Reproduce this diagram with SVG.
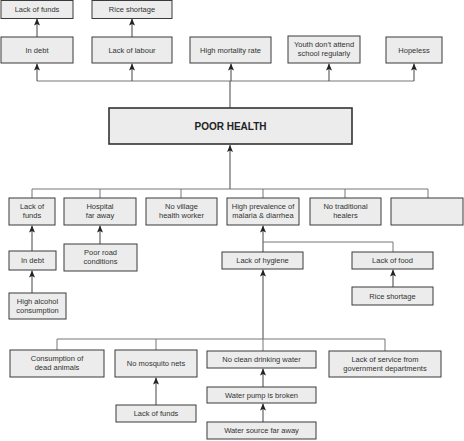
<svg xmlns="http://www.w3.org/2000/svg" width="464" height="441" viewBox="0 0 464 441">
<defs>
<marker id="ah" markerWidth="7" markerHeight="6" refX="7" refY="3" orient="auto" markerUnits="userSpaceOnUse" viewBox="0 0 7 6">
<path d="M7,3 L0,0 L1.5,3 L0,6 Z" fill="#222"/>
</marker>
<style>
.b{fill:#ebeceb;stroke:#3a3a3a;stroke-width:1}
.t{font-family:"Liberation Sans",Arial,sans-serif;font-size:7.5px;fill:#333;text-anchor:middle}
.c{stroke:#777;stroke-width:1;fill:none}
.a{stroke:#444;stroke-width:1;fill:none;marker-end:url(#ah)}
.p{stroke:#444;stroke-width:1;fill:none}
</style>
</defs>
<rect width="464" height="441" fill="#fff"/>
<g id="connectors">
<polyline class="c" points="37,81 414,81"/>
<line class="p" x1="230" y1="108" x2="230" y2="81"/>
<line class="a" x1="37" y1="81" x2="37" y2="63.5"/>
<line class="a" x1="132" y1="81" x2="132" y2="63.5"/>
<line class="a" x1="231" y1="81" x2="231" y2="63.5"/>
<line class="a" x1="329" y1="81" x2="329" y2="63.5"/>
<line class="a" x1="414" y1="81" x2="414" y2="63.5"/>
<line class="a" x1="37" y1="37" x2="37" y2="18.5"/>
<line class="a" x1="132" y1="37" x2="132" y2="18.5"/>
<line class="a" x1="230" y1="189" x2="230" y2="145"/>
<polyline class="c" points="32,198 32,189 428,189 428,198"/>
<line class="c" x1="100" y1="189" x2="100" y2="198"/>
<line class="c" x1="181" y1="189" x2="181" y2="198"/>
<line class="c" x1="263" y1="189" x2="263" y2="198"/>
<line class="c" x1="345" y1="189" x2="345" y2="198"/>
<line class="a" x1="32" y1="251" x2="32" y2="225.5"/>
<line class="a" x1="32" y1="293" x2="32" y2="270.5"/>
<line class="a" x1="100" y1="244" x2="100" y2="225.5"/>
<line class="a" x1="263" y1="252" x2="263" y2="225.5"/>
<polyline class="c" points="263,242 393,242 393,252"/>
<line class="a" x1="393" y1="287" x2="393" y2="269.5"/>
<line class="a" x1="263" y1="339" x2="263" y2="269.5"/>
<polyline class="c" points="57,350 57,339 385,339 385,351"/>
<line class="c" x1="156" y1="339" x2="156" y2="350"/>
<line class="c" x1="263" y1="339" x2="263" y2="351"/>
<line class="a" x1="156" y1="405" x2="156" y2="377.5"/>
<line class="a" x1="263" y1="387" x2="263" y2="368.5"/>
<line class="a" x1="263" y1="422" x2="263" y2="403.5"/>
</g>
<g id="n-lack-funds-top"><rect class="b" x="1" y="0.5" width="72" height="18"/><text class="t" x="37" y="12">Lack of funds</text></g>
<g id="n-rice-top"><rect class="b" x="92" y="0.5" width="80" height="18"/><text class="t" x="132" y="12">Rice shortage</text></g>
<g id="n-in-debt-top"><rect class="b" x="1" y="37" width="72" height="26"/><text class="t" x="37" y="52.5">In debt</text></g>
<g id="n-lack-labour"><rect class="b" x="92" y="37" width="80" height="26"/><text class="t" x="132" y="52.5">Lack of labour</text></g>
<g id="n-mortality"><rect class="b" x="190" y="37" width="81" height="26"/><text class="t" x="230.5" y="52.5">High mortality rate</text></g>
<g id="n-youth"><rect class="b" x="288" y="36" width="72" height="27"/><text class="t" x="324" y="47">Youth don’t attend</text><text class="t" x="324" y="56">school regularly</text></g>
<g id="n-hopeless"><rect class="b" x="386" y="37" width="56" height="26"/><text class="t" x="414" y="52.5">Hopeless</text></g>
<g id="n-poor-health"><rect x="109" y="108" width="243" height="36" fill="#ebeceb" stroke="#333" stroke-width="1.6"/><text x="230.5" y="130" font-family="Liberation Sans,Arial,sans-serif" font-size="10" font-weight="bold" fill="#222" text-anchor="middle">POOR HEALTH</text></g>
<g id="n-lack-funds-mid"><rect class="b" x="9" y="198" width="46" height="27"/><text class="t" x="32" y="209">Lack of</text><text class="t" x="32" y="218">funds</text></g>
<g id="n-hospital"><rect class="b" x="64" y="198" width="72" height="27"/><text class="t" x="100" y="209">Hospital</text><text class="t" x="100" y="218">far away</text></g>
<g id="n-village"><rect class="b" x="146" y="198" width="71" height="27"/><text class="t" x="181.5" y="209">No village</text><text class="t" x="181.5" y="218">health worker</text></g>
<g id="n-malaria"><rect class="b" x="227" y="198" width="72" height="27"/><text class="t" x="263" y="209">High prevalence of</text><text class="t" x="263" y="218">malaria &amp; diarrhea</text></g>
<g id="n-healers"><rect class="b" x="310" y="198" width="71" height="27"/><text class="t" x="345.5" y="209">No traditional</text><text class="t" x="345.5" y="218">healers</text></g>
<g id="n-empty"><rect class="b" x="391" y="198" width="72" height="27"/></g>
<g id="n-in-debt-mid"><rect class="b" x="9" y="251" width="47" height="19"/><text class="t" x="32.5" y="263">In debt</text></g>
<g id="n-alcohol"><rect class="b" x="9" y="293" width="57" height="26"/><text class="t" x="37.5" y="304">High alcohol</text><text class="t" x="37.5" y="313">consumption</text></g>
<g id="n-road"><rect class="b" x="64" y="244" width="73" height="27"/><text class="t" x="100.5" y="255">Poor road</text><text class="t" x="100.5" y="264">conditions</text></g>
<g id="n-hygiene"><rect class="b" x="222" y="252" width="81" height="17"/><text class="t" x="262.5" y="263">Lack of hygiene</text></g>
<g id="n-food"><rect class="b" x="352" y="252" width="81" height="17"/><text class="t" x="392.5" y="263">Lack of food</text></g>
<g id="n-rice-mid"><rect class="b" x="352" y="287" width="81" height="18"/><text class="t" x="392.5" y="299">Rice shortage</text></g>
<g id="n-dead-animals"><rect class="b" x="10" y="350" width="94" height="27"/><text class="t" x="57" y="361">Consumption of</text><text class="t" x="57" y="370">dead animals</text></g>
<g id="n-nets"><rect class="b" x="115" y="350" width="82" height="27"/><text class="t" x="156" y="366">No mosquito nets</text></g>
<g id="n-water"><rect class="b" x="207" y="351" width="109" height="17"/><text class="t" x="261.5" y="362">No clean drinking water</text></g>
<g id="n-service"><rect class="b" x="329" y="351" width="112" height="26"/><text class="t" x="385" y="362">Lack of service from</text><text class="t" x="385" y="371">government departments</text></g>
<g id="n-lack-funds-bot"><rect class="b" x="116" y="405" width="80" height="17"/><text class="t" x="156" y="416">Lack of funds</text></g>
<g id="n-pump"><rect class="b" x="207" y="387" width="109" height="16"/><text class="t" x="261.5" y="398">Water pump is broken</text></g>
<g id="n-source"><rect class="b" x="207" y="422" width="109" height="17"/><text class="t" x="261.5" y="433">Water source far away</text></g>
</svg>
